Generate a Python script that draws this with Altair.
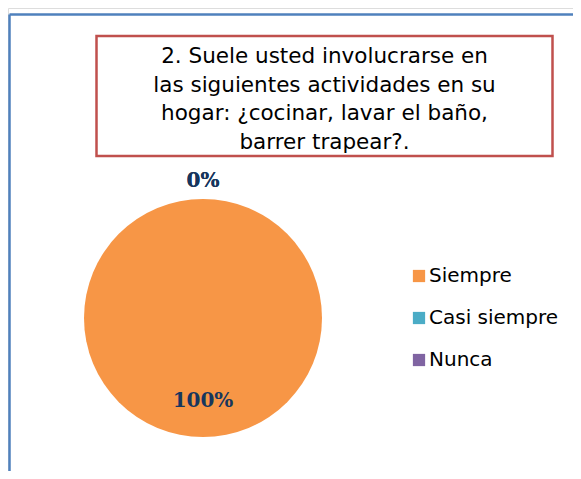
import altair as alt
import pandas as pd

categories = ["Siempre", "Casi siempre", "Nunca"]
values = [100, 0, 0]
labels = ["100%", "0%", "0%"]
colors = ["#F79646", "#4BACC6", "#8064A2"]
title_lines = [
    "2. Suele usted involucrarse en",
    "las siguientes actividades en su",
    "hogar: ¿cocinar, lavar el baño,",
    "barrer trapear?.",
]

df = pd.DataFrame({"cat": categories, "value": values, "label": labels,
                   "idx": list(range(len(categories)))})

CX, CY, R = 195, 310, 119

base = alt.Chart(df)

pie = base.mark_arc(radius=R, stroke=None).encode(
    theta=alt.Theta("value:Q", stack=True),
    order=alt.Order("idx:Q"),
    color=alt.Color(
        "cat:N",
        scale=alt.Scale(domain=categories, range=colors),
        sort=categories,
        legend=alt.Legend(
            title=None,
            orient="none",
            legendX=401,
            legendY=258,
            symbolType="square",
            symbolSize=150,
            symbolStrokeWidth=0,
            labelFont="DejaVu Sans",
            labelFontSize=20,
            labelColor="#000000",
            labelOffset=0,
            rowPadding=22,
            padding=0,
        ),
    ),
    x=alt.value(CX),
    y=alt.value(CY),
)

lab_main = base.transform_filter("datum.value > 0").mark_text(
    radius=83, font="DejaVu Serif", fontWeight="bold", fontSize=20,
    color="#17365D", baseline="middle", align="center",
).encode(
    theta=alt.Theta("value:Q", stack=True),
    order=alt.Order("idx:Q"),
    text="label:N",
    x=alt.value(CX),
    y=alt.value(CY),
)

lab_zero = base.transform_filter("datum.value == 0").mark_text(
    radius=137, font="DejaVu Serif", fontWeight="bold", fontSize=20,
    color="#17365D", baseline="middle", align="center",
).encode(
    theta=alt.Theta("value:Q", stack=True),
    order=alt.Order("idx:Q"),
    text="label:N",
    x=alt.value(CX),
    y=alt.value(CY),
)

# outer blue frame (left and top edges)
frame_top = alt.Chart(pd.DataFrame({"a": [0]})).mark_rule(
    color="#4F81BD", strokeWidth=2.5
).encode(x=alt.value(1.5), x2=alt.value(600), y=alt.value(6.5))
frame_left = alt.Chart(pd.DataFrame({"a": [0]})).mark_rule(
    color="#4F81BD", strokeWidth=2.5
).encode(x=alt.value(1.5), y=alt.value(6.5), y2=alt.value(500))

# red title box
title_box = alt.Chart(pd.DataFrame({"a": [0]})).mark_rect(
    fill="white", stroke="#C0504D", strokeWidth=2.5
).encode(x=alt.value(88.5), x2=alt.value(544.5), y=alt.value(28), y2=alt.value(148))

title_text = alt.Chart(pd.DataFrame({"a": [0]})).mark_text(
    text=title_lines, font="DejaVu Sans", fontSize=21.5, lineHeight=28.5,
    align="center", baseline="alphabetic", color="#000000",
).encode(x=alt.value(316.5), y=alt.value(55))

chart = alt.layer(
    frame_top, frame_left, title_box, title_text, pie, lab_main, lab_zero
).properties(
    width=565, height=463, autosize=alt.AutoSizeParams(type="none"), padding=0
).configure_view(stroke=None).configure(background="white")

chart.save("out.html", embed_options={"renderer": "svg", "actions": False})
